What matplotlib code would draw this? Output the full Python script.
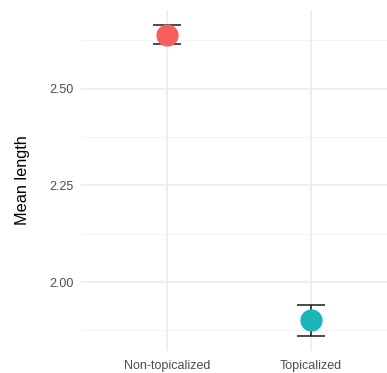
import matplotlib
matplotlib.use("Agg")
import matplotlib.pyplot as plt

plt.rcParams['font.family'] = ['Liberation Sans', 'DejaVu Sans']

# Mean length by condition, with error bar bounds
conditions = ["Non-topicalized", "Topicalized"]
mean_length = [2.638, 1.901]
ci_lower = [2.614, 1.862]
ci_upper = [2.663, 1.941]
point_colors = ["#F5605C", "#1BB5B9"]

y_ticks = [2.00, 2.25, 2.50]
y_tick_labels = ["2.00", "2.25", "2.50"]
y_minor = [1.875, 2.125, 2.375, 2.625]

W, H = 387, 373
fig = plt.figure(figsize=(W / 100, H / 100), dpi=100)
ax = fig.add_axes([81 / W, (373 - 351) / H, (387 - 81) / W, (351 - 10) / H])

x = list(range(1, len(conditions) + 1))

# grid
for yv in y_ticks:
    ax.axhline(yv, color="#ebebeb", lw=1.1, zorder=0)
for yv in y_minor:
    ax.axhline(yv, color="#f2f2f2", lw=0.6, zorder=0)
for xv in x:
    ax.axvline(xv, color="#ebebeb", lw=1.1, zorder=0)

for xi, m, lo, hi, c in zip(x, mean_length, ci_lower, ci_upper, point_colors):
    ax.errorbar(xi, m, yerr=[[m - lo], [hi - m]], fmt="none", ecolor="#1a1a1a",
                elinewidth=1.1, capsize=10, capthick=1.1, zorder=2)
    ax.plot(xi, m, "o", ms=15, color=c, mec=c, zorder=3)

ax.set_xlim(0.4, 2 + (387 - 311) / 144)
ax.set_ylim(1.822, 2.703)
ax.set_xticks(x)
ax.set_xticklabels(conditions)
ax.set_yticks(y_ticks)
ax.set_yticklabels(y_tick_labels)
ax.tick_params(axis="both", length=0, labelsize=9, labelcolor="#4d4d4d")
ax.tick_params(axis="x", pad=6.5)
ax.tick_params(axis="y", pad=5)
for s in ax.spines.values():
    s.set_visible(False)
ax.set_ylabel("Mean length", fontsize=11.7, color="black", labelpad=14)

fig.savefig("out.png", dpi=100)
